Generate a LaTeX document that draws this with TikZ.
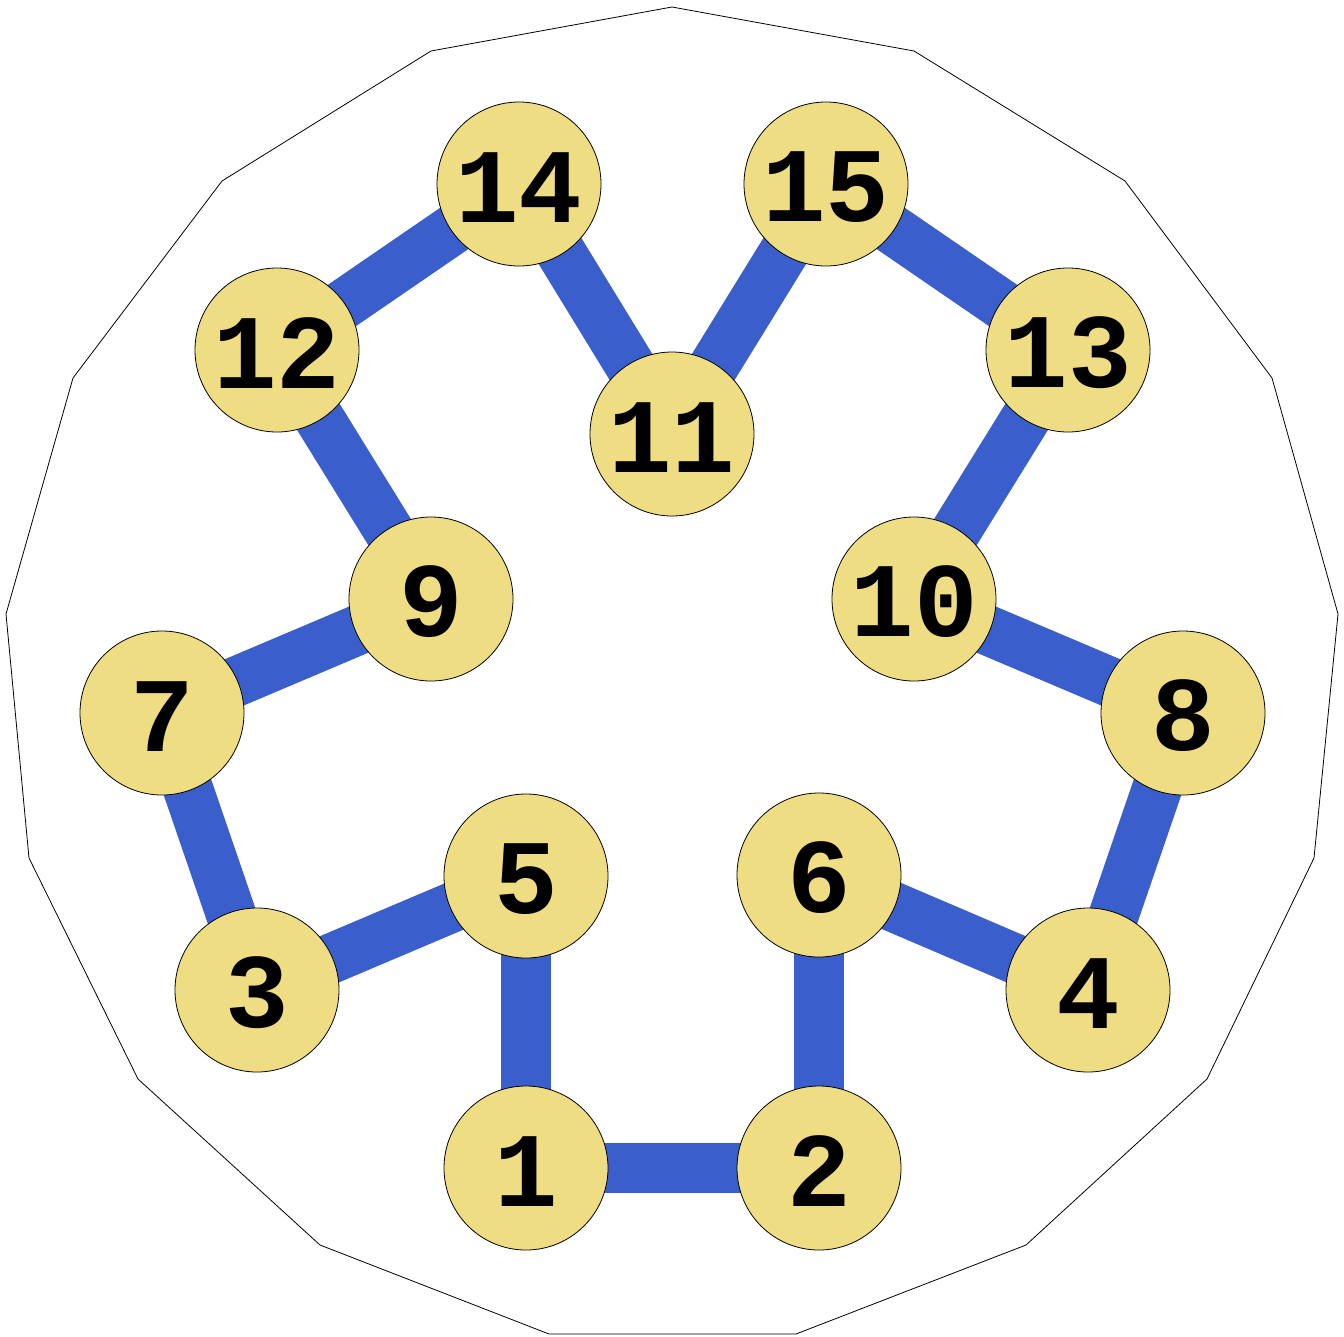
\documentclass[tikz,border=0pt]{standalone}
\usepackage{fontspec}
\newfontfamily\nodefont{Liberation Mono}[BoldFont={* Bold}]
\definecolor{edgeblue}{RGB}{58,95,205}
\definecolor{nodefill}{RGB}{238,221,130}
\newcommand{\lowered}[1]{#1\rule{0pt}{\dimexpr\fontcharht\font`1+7pt\relax}}
\begin{document}
\begin{tikzpicture}[x=1pt,y=-1pt,
  vtx/.style={circle,draw=black,line width=0.8pt,fill=nodefill,minimum size=164pt,inner sep=0pt,
    font=\nodefont\bfseries\fontsize{106}{106}\selectfont},
  edgeline/.style={draw=edgeblue,line width=50pt}]
\useasboundingbox (0,0) rectangle (1344,1336);
\draw[line width=0.8pt] (672,7) -- (914,51) -- (1125,181) -- (1272,378) -- (1338,614) -- (1314,858) -- (1207,1079) -- (1026,1245) -- (796,1334) -- (549,1334) -- (320,1245) -- (138,1079) -- (29,858) -- (6,614) -- (73,378) -- (222,181) -- (431,51) -- cycle;
\coordinate (p1) at (526,1168);
\coordinate (p2) at (819,1168);
\coordinate (p3) at (257,990);
\coordinate (p4) at (1088,990);
\coordinate (p5) at (526,876);
\coordinate (p6) at (819,875);
\coordinate (p7) at (162,713);
\coordinate (p8) at (1183,713);
\coordinate (p9) at (431,599);
\coordinate (p10) at (914,599);
\coordinate (p11) at (672,434);
\coordinate (p12) at (277,350);
\coordinate (p13) at (1068,350);
\coordinate (p14) at (519,184);
\coordinate (p15) at (826,184);
\foreach \a/\b in {1/2,1/5,2/6,5/3,3/7,7/9,9/12,12/14,14/11,11/15,15/13,13/10,10/8,8/4,4/6}
  \draw[edgeline] (p\a) -- (p\b);
\foreach \i in {1,...,15}
  \node[vtx] (n\i) at (p\i) {\lowered{\i}};
\end{tikzpicture}
\end{document}
